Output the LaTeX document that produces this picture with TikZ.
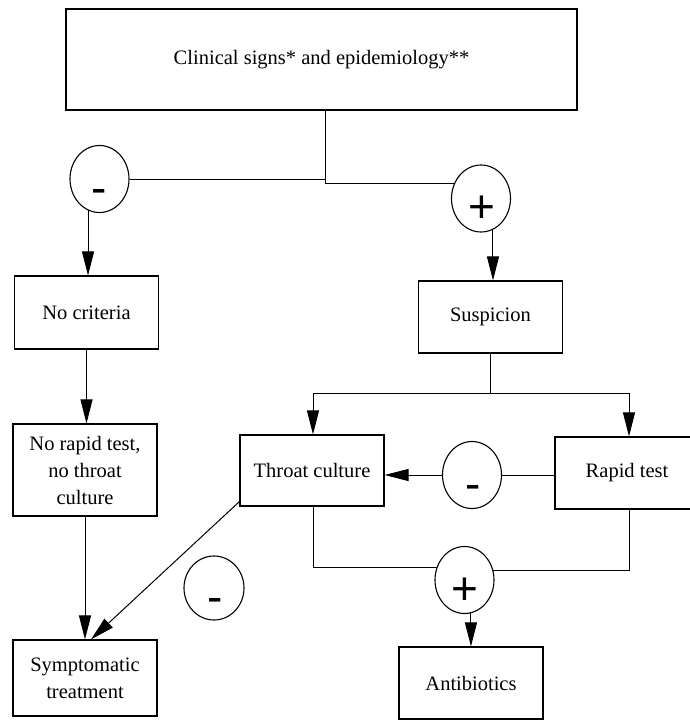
\documentclass[tikz,border=0pt]{standalone}
\usepackage{fontspec}
\setmainfont{Liberation Serif}
\newfontfamily\symf{Liberation Sans}
\usetikzlibrary{arrows.meta,shapes.geometric,calc}
\begin{document}
\begin{tikzpicture}[x=1pt,y=-1pt,
  box/.style={draw, line width=1.1pt, minimum width=144pt, inner sep=0pt, align=center, font=\fontsize{20.5}{27}\selectfont},
  sgn/.style={draw, ellipse, line width=1.1pt, minimum width=59pt, minimum height=67pt, inner sep=0pt},
  symb/.style={anchor=base, inner sep=0pt, font=\fontsize{46}{46}\symf},
  conn/.style={line width=1pt},
  arr/.style={conn, -{Triangle[length=24pt,width=12pt]}},
]
\useasboundingbox (0,0) rectangle (690,720);

% boxes
\node[box, minimum width=511pt, minimum height=101pt] (top) at (321.5,59.5) {Clinical signs* and epidemiology**};
\node[box, minimum height=73pt] (nc) at (86.5,312.5) {No criteria};
\node[box, minimum height=92pt] (nr) at (85,470) {No rapid test,\\no throat\\culture};
\node[box, minimum height=76pt] (sym) at (85,678) {Symptomatic\\treatment};
\node[box, minimum height=72pt] (susp) at (490.5,317) {Suspicion};
\node[box, minimum height=71pt] (tc) at (312,470.5) {Throat culture};
\node[box, minimum height=72pt] (rt) at (627,473) {Rapid test};
\node[box, minimum height=72pt] (ab) at (471,683) {Antibiotics};

% sign ellipses
\node[sgn] (m1) at (99.5,179) {};
\node[sgn] (p1) at (481,198.5) {};
\node[sgn] (m2) at (472,475) {};
\node[sgn, minimum width=60pt, minimum height=64pt] (m3) at (214,588) {};
\node[sgn] (p2) at (464.5,580) {};

\node[symb] (m1s) at ($(m1)+(0,24)$) {-};
\node[symb] (p1s) at ($(p1)+(1,24)$) {+};
\node[symb] (m2s) at ($(m2)+(1,24)$) {-};
\node[symb] (m3s) at ($(m3)+(1,24)$) {-};
\node[symb] (p2s) at ($(p2)+(0.5,24)$) {+};

% connectors
\coordinate (j1) at (325,180);
\draw[conn] (top.south -| j1) -- (j1 |- p1.150) -- (p1.150);
\draw[conn] (m1.east) -- (m1.east -| j1);
\draw[arr] (m1.250) -- (m1.250 |- nc.north);
\draw[arr] (p1.291) -- (p1.291 |- susp.north);
\draw[arr] (nc.south) -- (nc.south |- nr.north);
\draw[arr] (nr.south) -- (sym.north);

\coordinate (jl) at (313,393);
\coordinate (jr) at (629,393);
\draw[conn] (susp.south) -- (susp.south |- jl);
\draw[conn] (jl) -- (jr);
\draw[arr] (jl) -- (jl |- tc.north);
\draw[arr] (jr) -- (jr |- rt.north);
\draw[conn] (rt.west |- m2.east) -- (m2.east);
\draw[arr] (m2.west) -- (m2.west -| tc.east);
\draw[arr] ($(tc.south west)+(0,-5)$) -- ($(sym.north)+(6,0)$);

\coordinate (bl) at (313,567);
\coordinate (br) at (629,569);
\draw[conn] (tc.south -| bl) -- (bl |- p2.155) -- (p2.155);
\draw[conn] (rt.south -| br) -- (br |- p2.19) -- (p2.19);
\draw[arr] (p2.281) -- (p2.281 |- ab.north);
\end{tikzpicture}
\end{document}
